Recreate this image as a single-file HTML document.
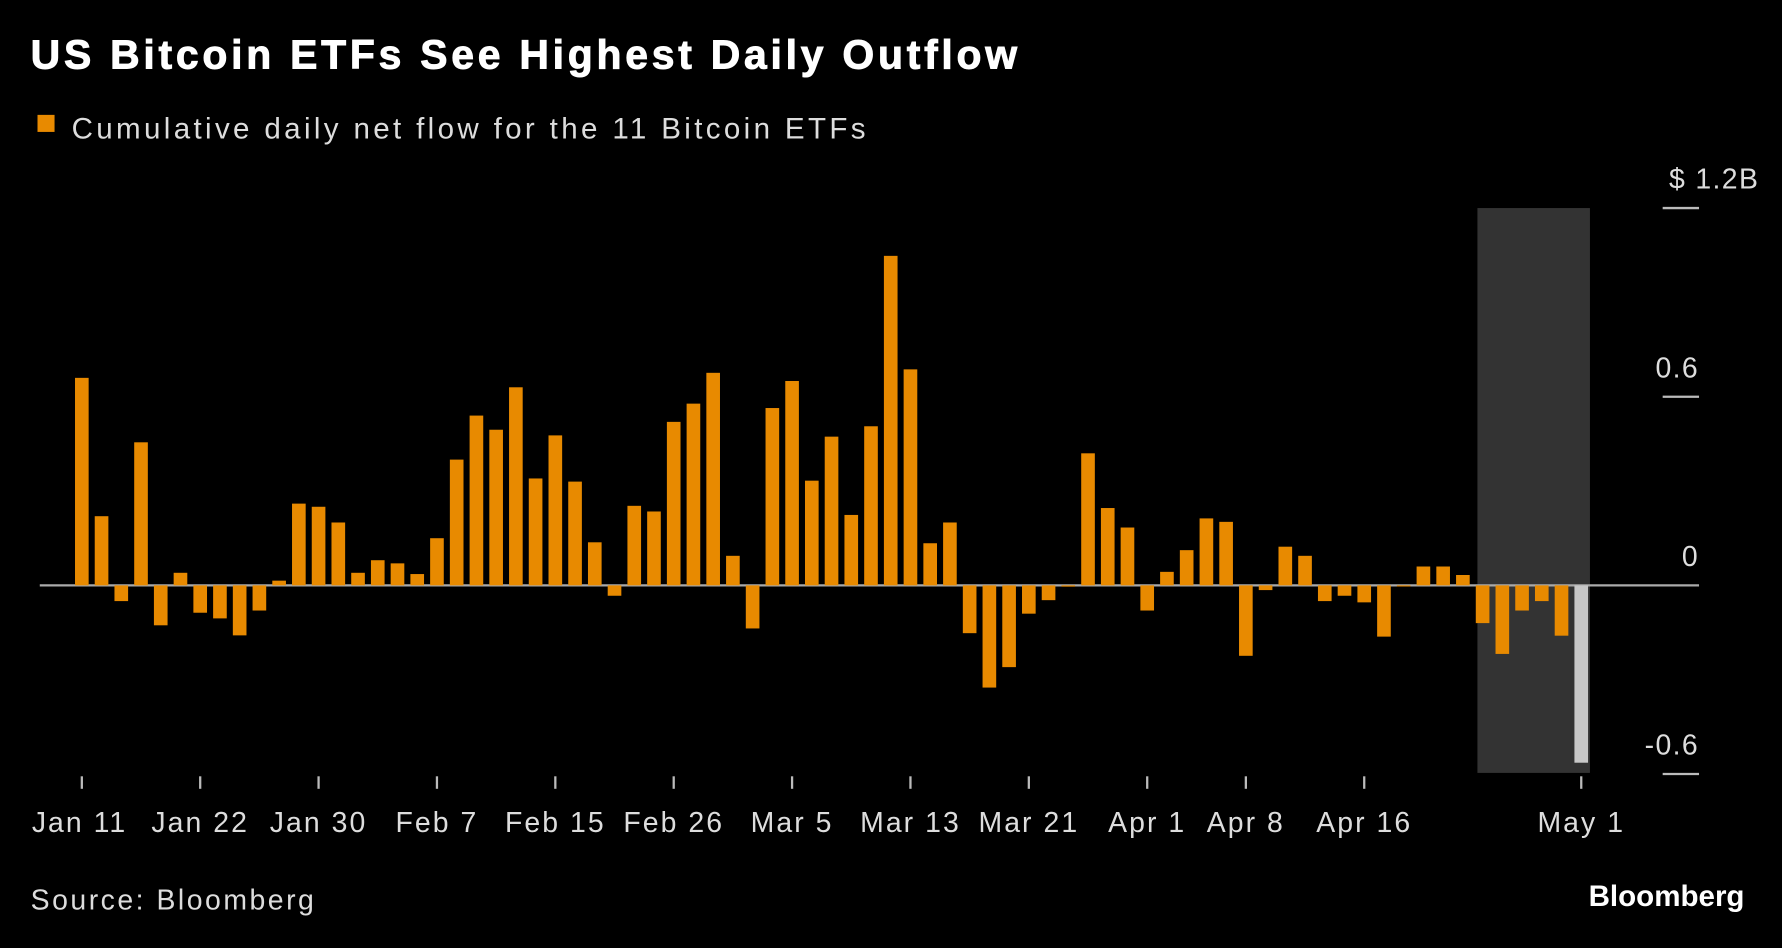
<!DOCTYPE html>
<html><head><meta charset="utf-8"><style>
html,body{margin:0;padding:0;background:#000;}
svg{display:block;font-family:"Liberation Sans",sans-serif;}
</style></head><body>
<svg id="chart" width="1782" height="948" viewBox="0 0 1568 834" xmlns="http://www.w3.org/2000/svg">
<rect x="0" y="0" width="1568" height="834" fill="#000"/>
<text x="27" y="60" fill="#fff" font-size="36" font-weight="bold" letter-spacing="3.3" stroke="#fff" stroke-width="0.8">US Bitcoin ETFs See Highest Daily Outflow</text>
<rect x="33" y="101" width="15" height="15" fill="#e88a00"/>
<text x="63" y="122" fill="#ddd" font-size="26" letter-spacing="2.95">Cumulative daily net flow for the 11 Bitcoin ETFs</text>
<rect x="1300" y="183" width="99" height="497" fill="#333"/>
<g id="grid"></g>
<g id="bars"></g>
<g id="xaxis"></g>
<text x="27" y="800" fill="#ddd" font-size="25" letter-spacing="2.2">Source: Bloomberg</text>
<text x="1535" y="797" fill="#fff" font-size="26" font-weight="bold" text-anchor="end">Bloomberg</text>
</svg>
<script>
const values = [0.66,0.22,-0.05,0.455,-0.127,0.04,-0.087,-0.105,-0.159,-0.08,0.015,0.26,0.25,0.2,
0.04,0.08,0.07,0.036,0.15,0.40,0.54,0.495,0.63,0.34,0.477,0.33,0.137,-0.033,0.253,0.235,0.52,0.578,0.676,0.094,
-0.137,0.564,0.65,0.333,0.473,0.224,0.506,1.048,0.687,0.134,0.2,-0.152,-0.325,-0.26,-0.09,-0.047,-0.004,0.42,0.246,0.184,
-0.08,0.043,0.112,0.213,0.202,-0.224,-0.015,0.123,0.094,-0.05,-0.033,-0.054,-0.163,-0.003,0.06,0.06,0.033,-0.12,-0.218,-0.08,-0.05,-0.16,-0.564];
const tickIndices = [0,6,12,18,24,30,36,42,48,54,59,65,76];
const tickLabels = ["Jan 11","Jan 22","Jan 30","Feb 7","Feb 15","Feb 26","Mar 5","Mar 13","Mar 21","Apr 1","Apr 8","Apr 16","May 1"];
const yTicks = [1.2,0.6,0,-0.6];
const yTickLabels = ["$ 1.2B","0.6","0","-0.6"];
const highlightIndex = 76;

const NS="http://www.w3.org/2000/svg";
const y = v => 515 - v*276.67;
const x = i => 72 + i*17.36;
const bw = 12;
const grid=document.getElementById('grid'), bars=document.getElementById('bars'), xa=document.getElementById('xaxis');
function mk(tag, attrs, parent){const e=document.createElementNS(NS,tag);for(const k in attrs)e.setAttribute(k,attrs[k]);parent.appendChild(e);return e;}

yTicks.forEach((t,k)=>{
  if(t!==0){
    const l=mk('line',{x1:1463,x2:1495,y1:y(t),y2:y(t),stroke:'#bbb','stroke-width':2},grid);
    
    
  }
  const tx=mk('text',{x:k===0?1548:1495,y:y(t)-17,fill:'#ddd','font-size':25,'text-anchor':'end','letter-spacing':1.2},grid);
  tx.textContent=yTickLabels[k];
  
  
});

values.forEach((v,i)=>{
  const top=Math.min(y(v),y(0)), h=Math.abs(y(v)-y(0));
  const r=mk('rect',{x:x(i)-bw/2,y:top,width:bw,height:Math.max(h,1),fill:i===highlightIndex?'#c8c8c8':'#e88a00'},bars);
  
  
});

const zl=mk('line',{x1:35,x2:1495,y1:y(0),y2:y(0),stroke:'#aaa','stroke-width':2},grid);



tickIndices.forEach((ti,k)=>{
  const l=mk('line',{x1:x(ti),x2:x(ti),y1:683,y2:694,stroke:'#bbb','stroke-width':2},xa);
  
  
  const t=mk('text',{x:x(ti)+(k===0?-2:0),y:732,fill:'#ddd','font-size':25,'text-anchor':'middle','letter-spacing':1.8},xa);
  t.textContent=tickLabels[k];
  
  
});
</script>
</body></html>
